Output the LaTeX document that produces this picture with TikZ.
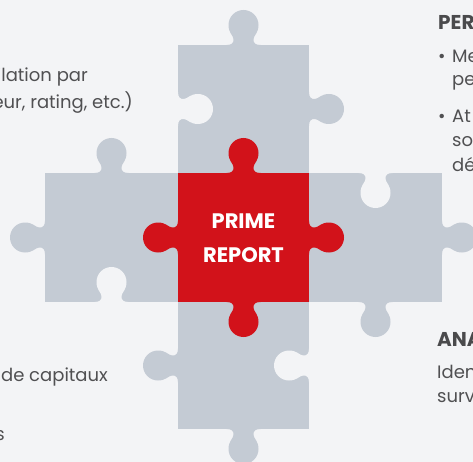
\documentclass[tikz,border=0pt]{standalone}
\usepackage{fontspec}
\setmainfont{Poppins}
\definecolor{bg}{HTML}{F3F4F6}
\definecolor{piece}{HTML}{C4CBD4}
\definecolor{pred}{HTML}{D2121A}
\definecolor{txt}{HTML}{505052}
\definecolor{ttl}{HTML}{4A4A4C}
\newcommand{\knob}[4]{%
  \fill[#1, shift={(#2,#3)}, rotate=#4]
    (-17pt,-1pt) -- (-17pt,0pt)
    .. controls (-12pt,0pt) and (-9.5pt,2pt) .. (-10pt,6pt)
    .. controls (-10.5pt,10pt) and (-15pt,12pt) .. (-15pt,20pt)
    arc[start angle=180,end angle=0,radius=15pt]
    .. controls (15pt,12pt) and (10.5pt,10pt) .. (10pt,6pt)
    .. controls (9.5pt,2pt) and (12pt,0pt) .. (17pt,0pt)
    -- (17pt,-1pt) -- cycle;}
\tikzset{
  body/.style={font=\fontsize{18}{24}\selectfont, text=txt, inner sep=0pt},
  head/.style={font=\fontsize{20}{24}\selectfont\bfseries, text=ttl, inner sep=0pt},
  center/.style={font=\fontsize{21}{34}\selectfont\bfseries, text=white, align=center, inner sep=0pt}
}
\begin{document}
\begin{tikzpicture}[x=1pt,y=-1pt]
\useasboundingbox (0,0) rectangle (473,462);
\fill[bg] (0,0) rectangle (473,462);
% gray pieces
\fill[piece] (178,45) rectangle (309,173);
\fill[piece] (45,173) rectangle (178,302);
\fill[piece] (309,173) rectangle (442,302);
\fill[piece] (178,302) rectangle (309,429);
% gray knobs
\knob{piece}{243.5}{45}{0}
\knob{piece}{309}{109}{-90}
\knob{piece}{111.5}{173}{0}
\knob{piece}{45}{237.5}{90}
\knob{piece}{442}{237.5}{-90}
\knob{piece}{375.5}{302}{180}
\knob{piece}{178}{365.5}{90}
\knob{piece}{243.5}{429}{180}
% holes
\knob{bg}{178}{109}{-90}
\knob{bg}{111.5}{302}{0}
\knob{bg}{375.5}{173}{180}
\knob{bg}{309}{365.5}{90}
% red piece
\fill[pred] (178,173) rectangle (309,302);
\knob{pred}{243.5}{173}{0}
\knob{pred}{243.5}{302}{180}
\knob{pred}{178}{237.5}{90}
\knob{pred}{309}{237.5}{-90}
\node[center] (core) at (243.5,238) {PRIME\\REPORT};
% texts
\node[body, anchor=base east] (l1) at (88,82) {ilation par};
\node[body, anchor=base east] (l2) at (133,109) {eur, rating, etc.)};
\node[body, anchor=base east] (l3) at (108,381) {de capitaux};
\node[body, anchor=base east] (l4) at (5,440) {s};
\node[head, anchor=base west] (r1) at (438,30) {PER};
\node[body, anchor=base west] (b1) at (438,63) {•};
\node[body, anchor=base west] (r2) at (452,63) {Me};
\node[body, anchor=base west] (r3) at (452,86) {pe};
\node[body, anchor=base west] (b2) at (438,123) {•};
\node[body, anchor=base west] (r4) at (452,123) {At};
\node[body, anchor=base west] (r5) at (452,147) {so};
\node[body, anchor=base west] (r6) at (452,172) {dé};
\node[head, anchor=base west] (r7) at (437,346) {ANA};
\node[body, anchor=base west] (r8) at (437,378) {Iden};
\node[body, anchor=base west] (r9) at (437,402) {surv};
\end{tikzpicture}
\end{document}
